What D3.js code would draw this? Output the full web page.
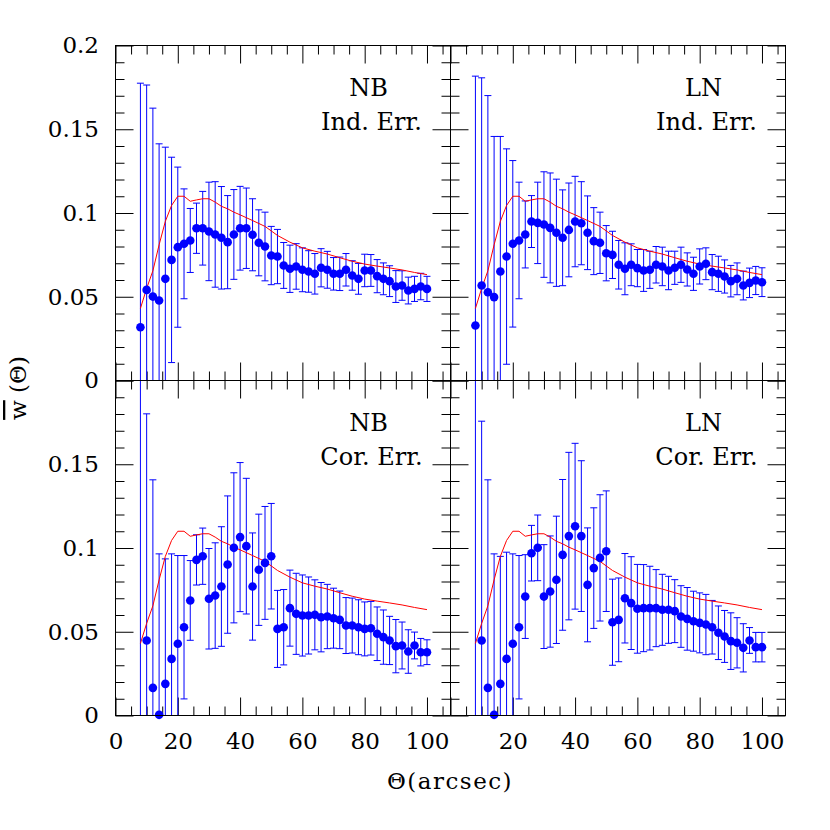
<!DOCTYPE html>
<html>
<head>
<meta charset="utf-8">
<script src="https://cdn.jsdelivr.net/npm/d3@7"></script>
<style>
  html, body { margin: 0; padding: 0; background: #fff; }
  svg text { font-family: "DejaVu Serif", "Liberation Serif", serif; fill: #000; }
</style>
</head>
<body>
<svg id="chart" width="830" height="830"></svg>
<script>
// Angular bins (arcsec)
const theta = [8, 10, 12, 14, 16, 18, 20, 22, 24, 26, 28, 30, 32, 34, 36, 38, 40, 42, 44, 46,
  48, 50, 52, 54, 56, 58, 60, 62, 64, 66, 68, 70, 72, 74, 76, 78, 80, 82, 84, 86,
  88, 90, 92, 94, 96, 98, 100];

// NB, independent errors
const nbIndW = [0.0318, 0.0541, 0.0501, 0.0478, 0.0607, 0.072, 0.0796, 0.0816, 0.0836, 0.0909,
  0.0909, 0.089, 0.0872, 0.0852, 0.0826, 0.0872, 0.0909, 0.0909, 0.087, 0.0822,
  0.08, 0.0746, 0.074, 0.0687, 0.0667, 0.0681, 0.0661, 0.0651, 0.0637, 0.0673,
  0.0661, 0.0637, 0.0637, 0.0661, 0.0627, 0.0607, 0.0657, 0.0657, 0.0623, 0.0607,
  0.0593, 0.0561, 0.0567, 0.0537, 0.0547, 0.0561, 0.0547];
const nbIndErr = [0.1457, 0.1223, 0.1125, 0.0935, 0.0786, 0.0613, 0.0478, 0.0328, 0.0191, 0.015,
  0.022, 0.0294, 0.0315, 0.0306, 0.0278, 0.0268, 0.025, 0.024, 0.0215, 0.0197,
  0.0205, 0.0174, 0.0162, 0.0137, 0.0141, 0.0136, 0.0131, 0.0124, 0.0121, 0.0114,
  0.011, 0.0097, 0.01, 0.0097, 0.0088, 0.0092, 0.0097, 0.0095, 0.0099, 0.0095,
  0.0092, 0.0095, 0.0088, 0.008, 0.0075, 0.0079, 0.0075];

// LN, independent errors
const lnIndW = [0.0328, 0.0567, 0.0527, 0.0498, 0.0651, 0.074, 0.0816, 0.0836, 0.0872, 0.0949,
  0.0941, 0.0931, 0.0911, 0.0882, 0.0852, 0.0899, 0.0949, 0.0939, 0.0882, 0.0832,
  0.0822, 0.076, 0.075, 0.0691, 0.0667, 0.0691, 0.0671, 0.0657, 0.0661, 0.0691,
  0.0681, 0.0657, 0.0673, 0.0691, 0.0663, 0.0637, 0.0681, 0.0697, 0.0647, 0.0637,
  0.0621, 0.0593, 0.0607, 0.0567, 0.0583, 0.0597, 0.0587];
const lnIndErr = [0.1489, 0.124, 0.1174, 0.0959, 0.0806, 0.0643, 0.0497, 0.0348, 0.02, 0.0155,
  0.0243, 0.0315, 0.0328, 0.032, 0.0286, 0.028, 0.027, 0.0248, 0.022, 0.02,
  0.0183, 0.0165, 0.0141, 0.0145, 0.0155, 0.0125, 0.0111, 0.0125, 0.0111, 0.0109,
  0.0115, 0.0115, 0.0099, 0.0105, 0.0099, 0.0099, 0.0105, 0.0095, 0.0105, 0.0105,
  0.0099, 0.0094, 0.0095, 0.0086, 0.0088, 0.0084, 0.0086];

// NB, correlated errors (first bin falls below the plotted range)
const nbCorW = [-0.02, 0.0448, 0.0165, 0.0004, 0.0189, 0.0338, 0.0428, 0.0527, 0.0687, 0.0929,
  0.0951, 0.0697, 0.0716, 0.077, 0.0901, 0.1001, 0.1065, 0.1011, 0.077, 0.087,
  0.0911, 0.0951, 0.0517, 0.0527, 0.0641, 0.0607, 0.0597, 0.0597, 0.0601, 0.0587,
  0.0591, 0.0581, 0.0571, 0.0537, 0.0537, 0.0527, 0.0517, 0.0521, 0.0488, 0.0468,
  0.0448, 0.0414, 0.0418, 0.0382, 0.0418, 0.0378, 0.0378];
const nbCorErr = [0.3, 0.1353, 0.1242, 0.0961, 0.0746, 0.0627, 0.0527, 0.0428, 0.0238, 0.015,
  0.0168, 0.03, 0.0315, 0.0357, 0.041, 0.0448, 0.0445, 0.0405, 0.032, 0.0332,
  0.0337, 0.0315, 0.023, 0.0225, 0.0227, 0.0242, 0.0242, 0.023, 0.0209, 0.0207,
  0.0192, 0.0179, 0.0172, 0.0167, 0.0164, 0.0164, 0.0161, 0.016, 0.016, 0.0162,
  0.0144, 0.0159, 0.014, 0.013, 0.008, 0.0082, 0.0074];

// LN, correlated errors
const lnCorW = [-0.02, 0.0448, 0.0165, 0.0004, 0.0189, 0.0338, 0.0428, 0.0527, 0.071, 0.0969,
  0.1001, 0.071, 0.074, 0.081, 0.0959, 0.1071, 0.113, 0.1071, 0.078, 0.088,
  0.0941, 0.0981, 0.0557, 0.0571, 0.07, 0.0671, 0.0637, 0.0641, 0.0641, 0.0641,
  0.0631, 0.0631, 0.0623, 0.0591, 0.0577, 0.0563, 0.0553, 0.0543, 0.0527, 0.0494,
  0.0472, 0.0444, 0.0434, 0.0404, 0.0448, 0.0408, 0.0408];
const lnCorErr = [0.3, 0.1309, 0.1242, 0.0961, 0.0761, 0.0637, 0.0537, 0.0428, 0.025, 0.0166,
  0.0196, 0.031, 0.0332, 0.038, 0.045, 0.05, 0.0495, 0.045, 0.034, 0.036,
  0.0377, 0.036, 0.0257, 0.025, 0.0267, 0.0277, 0.0265, 0.026, 0.025, 0.023,
  0.0212, 0.02, 0.0188, 0.0184, 0.0187, 0.0179, 0.0179, 0.018, 0.016, 0.016,
  0.0155, 0.0169, 0.015, 0.0144, 0.0077, 0.0088, 0.0088];

// Model curve (red), same in every panel
const modelTheta = [8, 10, 12, 14, 16, 18, 20, 22, 24, 26, 28, 30, 32, 34, 36, 38, 40, 44, 48, 52,
  56, 60, 64, 68, 72, 76, 80, 84, 88, 92, 96, 100];
const modelW = [0.043, 0.055, 0.0655, 0.081, 0.095, 0.1045, 0.110, 0.110, 0.107, 0.1078,
  0.1085, 0.1085, 0.1065, 0.104, 0.1025, 0.1005, 0.0989, 0.0955, 0.092, 0.0866,
  0.0826, 0.0792, 0.0772, 0.0755, 0.0733, 0.0712, 0.0695, 0.0683, 0.0672, 0.066,
  0.0645, 0.0632];

// Ticks
const xMajor = [0, 20, 40, 60, 80, 100];
const xMinor = [5, 10, 15, 25, 30, 35, 45, 50, 55, 65, 70, 75, 85, 90, 95, 105];
const yMajor = [0, 0.05, 0.1, 0.15, 0.2];
const yMinor = [0.01, 0.02, 0.03, 0.04, 0.06, 0.07, 0.08, 0.09, 0.11, 0.12, 0.13, 0.14,
  0.16, 0.17, 0.18, 0.19];

const sampleNames = ['NB', 'LN', 'NB', 'LN'];
const errorNames = ['Ind. Err.', 'Ind. Err.', 'Cor. Err.', 'Cor. Err.'];

// Panel table built from the arrays above
const panels = [
  { col: 0, row: 0, w: nbIndW, err: nbIndErr },
  { col: 1, row: 0, w: lnIndW, err: lnIndErr },
  { col: 0, row: 1, w: nbCorW, err: nbCorErr },
  { col: 1, row: 1, w: lnCorW, err: lnCorErr }
];

// Layout
const left0 = 115.5;
const top0 = 45.5;
const pw = 335;
const ph = 335;
const majorLen = 18;
const minorLen = 9;
const capHalf = 3.5;

const svg = d3.select('#chart');

const x = d3.scaleLinear().domain([0, 107.55]).range([0, pw]);
const y = d3.scaleLinear().domain([0, 0.2]).range([ph, 0]);

const fmt = d => String(d);

panels.forEach((p, i) => {
  const g = svg.append('g')
    .attr('transform', `translate(${left0 + p.col * pw}, ${top0 + p.row * ph})`);

  // Axes on all four sides, ticks pointing inward
  const showX = p.row === 1;
  const showY = p.col === 0;
  const xLabel = d => (!showX || (p.col === 1 && d === 0)) ? '' : fmt(d);
  const yLabel = d => (!showY || (p.row === 1 && d === 0.2)) ? '' : fmt(d);

  const axes = [
    { make: () => d3.axisBottom(x), t: `translate(0,${ph})`, maj: xMajor, min: xMinor, lab: xLabel, pad: 17.5 },
    { make: () => d3.axisTop(x), t: 'translate(0,0)', maj: xMajor, min: xMinor, lab: () => '', pad: 3 },
    { make: () => d3.axisLeft(y), t: 'translate(0,0)', maj: yMajor, min: yMinor, lab: yLabel, pad: 16.5 },
    { make: () => d3.axisRight(y), t: `translate(${pw},0)`, maj: yMajor, min: yMinor, lab: () => '', pad: 3 }
  ];

  axes.forEach(ax => {
    const gMaj = g.append('g').attr('transform', ax.t)
      .call(ax.make().tickValues(ax.maj).tickSize(-majorLen).tickPadding(ax.pad).tickFormat(ax.lab));
    gMaj.select('.domain').remove();
    gMaj.attr('font-family', null).attr('font-size', null);
    gMaj.selectAll('text').style('font-size', '23px');

    const gMin = g.append('g').attr('transform', ax.t)
      .call(ax.make().tickValues(ax.min).tickSize(-minorLen).tickFormat(''));
    gMin.select('.domain').remove();
  });

  g.selectAll('.tick line').attr('stroke', '#000').attr('stroke-width', 1);

  // Error bars, clamped to the plotted range
  const bars = theta.map((t, k) => ({
    t,
    lo: Math.max(0, p.w[k] - p.err[k]),
    hi: Math.min(0.2, p.w[k] + p.err[k])
  }));

  const eb = g.append('g').attr('stroke', '#0000ff').attr('stroke-width', 1).attr('fill', 'none');
  eb.selectAll('path')
    .data(bars)
    .join('path')
    .attr('d', d => {
      const cx = x(d.t);
      return `M${cx},${y(d.lo)}V${y(d.hi)}` +
        `M${cx - capHalf},${y(d.hi)}H${cx + capHalf}` +
        `M${cx - capHalf},${y(d.lo)}H${cx + capHalf}`;
    });

  // Model curve
  const line = d3.line()
    .x(d => x(d[0]))
    .y(d => y(d[1]));

  g.append('path')
    .datum(modelTheta.map((t, k) => [t, modelW[k]]))
    .attr('d', line)
    .attr('fill', 'none')
    .attr('stroke', '#ff0000')
    .attr('stroke-width', 1);

  // Data points (only those inside the plotted range)
  const pts = theta.map((t, k) => ({ t, w: p.w[k] })).filter(d => d.w >= 0 && d.w <= 0.2);
  g.append('g')
    .selectAll('circle')
    .data(pts)
    .join('circle')
    .attr('cx', d => x(d.t))
    .attr('cy', d => y(d.w))
    .attr('r', 4.3)
    .attr('fill', '#0000ff');

  // Frame
  g.append('rect')
    .attr('width', pw)
    .attr('height', ph)
    .attr('fill', 'none')
    .attr('stroke', '#000')
    .attr('stroke-width', 1);

  // Panel annotation
  const ann = g.append('text')
    .attr('text-anchor', 'middle')
    .style('font-size', '24px');
  ann.append('tspan').attr('x', 253).attr('y', 50.5).text(sampleNames[i]);
  ann.append('tspan').attr('x', 256).attr('y', 84.5).text(errorNames[i]);
});

// Axis titles
svg.append('text')
  .attr('x', 450)
  .attr('y', 789)
  .attr('text-anchor', 'middle')
  .style('font-size', '23px')
  .style('letter-spacing', '1.5px')
  .text('\u0398(arcsec)');

const yTitle = svg.append('text')
  .attr('transform', 'translate(26, 388) rotate(-90)')
  .attr('text-anchor', 'middle')
  .style('font-size', '23px');
yTitle.append('tspan').attr('text-decoration', 'overline').text('w');
yTitle.append('tspan').text(' (\u0398)');
</script>
</body>
</html>
